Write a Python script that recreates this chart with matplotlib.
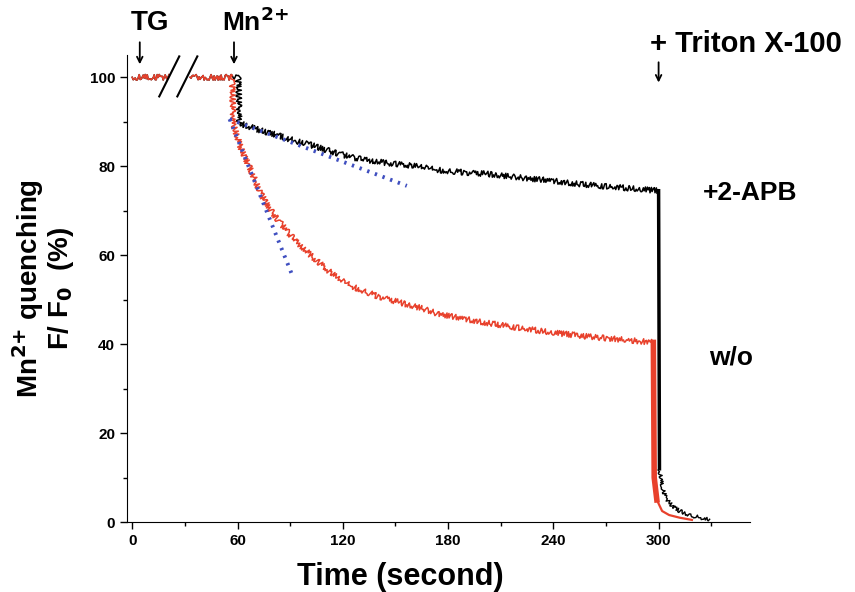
#importing libraries
import numpy as np
import matplotlib.pyplot as plt

plt.rcParams['font.family'] = ['Liberation Sans', 'DejaVu Sans']

#data (time in s, F/F0 in %)
black_t = [0, 21, np.nan, 33, 58, 60.5, 61, 66, 70, 75, 80, 88, 94, 100, 112, 125, 140, 150, 164, 173,
           190, 202, 220, 240, 255, 270, 285, 300, 300.5, 302, 304, 308, 312, 318, 324, 329]
black_v = [100, 100, np.nan, 100, 100, 100, 89.7, 89, 88.5, 87.8, 87.3, 86.3, 85.6, 85, 83.5, 82, 81, 80.5,
           80, 79.2, 78.6, 78.3, 77.5, 76.7, 76, 75.5, 75, 74.5, 12, 8, 5.5, 3.5, 2.5, 1.5, 1, 0.5]

red_t = [0, 21, np.nan, 33, 57, 57.5, 58, 62, 68.5, 73, 78, 83, 88, 93, 99, 105, 112, 118, 125, 132,
         139, 147, 156, 164, 173, 185, 202, 220, 240, 260, 280, 297, 297.5, 299, 302, 306, 312, 319]
red_v = [100, 100, np.nan, 100, 100, 90, 89, 84, 78.3, 74, 70.6, 68, 65.5, 63.3, 61, 58.8, 56.5, 54.7,
         53, 52, 50.9, 50, 49, 48.2, 47, 46, 44.8, 43.7, 42.6, 41.7, 41, 40.4, 10, 5, 2.5, 1.6, 1, 0.5]

#initial slopes (dotted)
fit_slow_t = [55.5, 156.5]
fit_slow_v = [90.6, 75.6]
fit_fast_t = [55.5, 90.7]
fit_fast_v = [90.6, 56]

xticks = [0, 60, 120, 180, 240, 300]
yticks = [0, 20, 40, 60, 80, 100]

red = '#e8412c'
blue = '#3f4fc0'
kb = black_t.index(300)   # Triton added
kr = red_t.index(297)

fig = plt.figure(figsize=(8.55, 5.92), dpi=100)
ax = fig.add_axes([0.1485, 0.118, 0.7285, 0.789])

#noisy plateau/decay parts, clean lysis drop
lb, = ax.plot(black_t[:kb + 1], black_v[:kb + 1], color='black', lw=1.1)
lb.set_sketch_params(2.8, 1.5, 4)
ax.plot(black_t[kb:kb + 2], black_v[kb:kb + 2], color='black', lw=2.5)
lt, = ax.plot(black_t[kb + 1:], black_v[kb + 1:], color='black', lw=1.0)
lt.set_sketch_params(1.8, 1.5, 4)

lr, = ax.plot(red_t[:kr + 1], red_v[:kr + 1], color=red, lw=1.1)
lr.set_sketch_params(2.8, 1.5, 4)
ax.plot(red_t[kr:kr + 3], red_v[kr:kr + 3], color=red, lw=4)
ax.plot(red_t[kr + 1:], red_v[kr + 1:], color=red, lw=1.6)

ax.plot(fit_slow_t, fit_slow_v, color=blue, lw=2.8, linestyle=(0, (0.6, 1.5)), dash_capstyle='butt')
ax.plot(fit_fast_t, fit_fast_v, color=blue, lw=2.8, linestyle=(0, (0.6, 1.5)), dash_capstyle='butt')

#axis break marks
ax.plot([15.4, 26.8], [95.7, 104.7], color='black', lw=1.5, clip_on=False)
ax.plot([25.7, 37.1], [95.7, 104.7], color='black', lw=1.5, clip_on=False)

ax.set_xlim(-3, 352)
ax.set_ylim(0, 105)
ax.set_xticks(xticks)
ax.set_yticks(yticks)
ax.set_xticks(np.arange(30, 331, 60), minor=True)
ax.set_yticks(np.arange(10, 101, 20), minor=True)
ax.tick_params(which='major', direction='out', length=5, width=1, labelsize=11)
ax.tick_params(which='minor', direction='out', length=3, width=1)
for lab in ax.get_xticklabels() + ax.get_yticklabels():
    lab.set_fontweight('bold')
ax.spines['top'].set_visible(False)
ax.spines['right'].set_visible(False)

ax.set_xlabel('Time (second)', fontsize=22, fontweight='bold')
ax.xaxis.set_label_coords(156 / 355, -0.086)
ax.set_ylabel('Mn$^{\\mathbf{2{+}}}$ quenching\nF/ F$_\\mathbf{0}$  (%)', fontsize=20, fontweight='bold',
              linespacing=1.0, labelpad=10)

#annotations
arrow = dict(arrowstyle='->', color='black', lw=1.3)
ax.annotate('', xy=(4.3, 102.3), xytext=(4.3, 108.5), arrowprops=arrow, annotation_clip=False)
ax.annotate('', xy=(58, 102.3), xytext=(58, 108.5), arrowprops=arrow, annotation_clip=False)
ax.annotate('', xy=(300, 98.2), xytext=(300, 104), arrowprops=arrow, annotation_clip=False)
ax.text(-1, 109.3, 'TG', fontsize=20, fontweight='bold', va='bottom', ha='left')
ax.text(51, 109.3, 'Mn$^{\\mathbf{2{+}}}$', fontsize=19, fontweight='bold', va='bottom', ha='left')
ax.text(295, 107.5, '+ Triton X-100', fontsize=21, fontweight='bold', va='center', ha='left')
ax.text(325, 74, '+2-APB', fontsize=19, fontweight='bold', va='center', ha='left')
ax.text(329, 37, 'w/o', fontsize=19, fontweight='bold', va='center', ha='left')

plt.savefig('out.png', dpi=100)
